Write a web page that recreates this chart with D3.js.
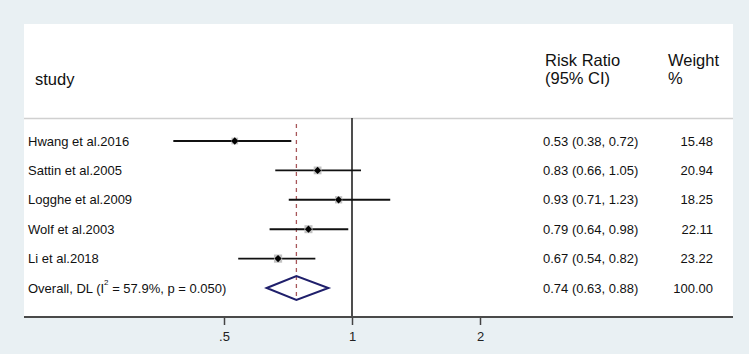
<!DOCTYPE html>
<html>
<head>
<meta charset="utf-8">
<script src="https://cdn.jsdelivr.net/npm/d3@7"></script>
<style>
  body { margin: 0; background: #e9f0f3; }
  svg { display: block; font-family: "Liberation Sans", Arial, sans-serif; }
</style>
</head>
<body>
<div class="canvas"></div>
<script>
// study rows
var studies = ['Hwang et al.2016', 'Sattin et al.2005', 'Logghe et al.2009', 'Wolf et al.2003', 'Li et al.2018'];
var rr = [0.53, 0.83, 0.93, 0.79, 0.67];
var lower = [0.38, 0.66, 0.71, 0.64, 0.54];
var upper = [0.72, 1.05, 1.23, 0.98, 0.82];
var weights = [15.48, 20.94, 18.25, 22.11, 23.22];

// pooled estimate
var overallLabel = 'Overall, DL';
var overallI2 = '57.9%';
var overallP = '0.050';
var overallRR = 0.74, overallLo = 0.63, overallHi = 0.88, overallWeight = 100.00;

var tickVals = [0.5, 1, 2];
var tickLabels = ['.5', '1', '2'];

var width = 749, height = 354;
var panel = { left: 24, top: 24, right: 733, bottom: 317 };

var svg = d3.select('.canvas')
  .append('svg')
  .attr('width', width)
  .attr('height', height);

// white plot region
svg.append('rect')
  .attr('x', panel.left).attr('y', panel.top)
  .attr('width', panel.right - panel.left)
  .attr('height', panel.bottom - panel.top)
  .attr('fill', '#fff');

var xscale = d3.scaleLog().domain([0.5, 2]).range([224, 480]);
var rows = studies.concat(['overall']);
var yscale = d3.scalePoint().domain(rows).range([141, 288]);

var fmt = d3.format('.2f');
var data = studies.map(function(s, i) {
  return { study: s, rr: rr[i], lo: lower[i], hi: upper[i], w: weights[i] };
});

// header
var head = svg.append('g').attr('fill', '#111').attr('font-size', 16.5);
head.append('text').attr('x', 35).attr('y', 85).text('study');
head.append('text').attr('x', 545).attr('y', 66).text('Risk Ratio');
head.append('text').attr('x', 545).attr('y', 84).text('(95% CI)');
head.append('text').attr('x', 668).attr('y', 66).text('Weight');
head.append('text').attr('x', 668).attr('y', 84).text('%');

svg.append('line')
  .attr('x1', panel.left).attr('x2', panel.right)
  .attr('y1', 118.5).attr('y2', 118.5)
  .attr('stroke', '#d0d0d0').attr('stroke-width', 1.5);

// null line
svg.append('line')
  .attr('x1', xscale(1)).attr('x2', xscale(1))
  .attr('y1', 118).attr('y2', panel.bottom)
  .attr('stroke', '#222').attr('stroke-width', 1.6);

// pooled estimate line
svg.append('line')
  .attr('x1', xscale(overallRR)).attr('x2', xscale(overallRR))
  .attr('y1', 124).attr('y2', yscale('overall') + 12)
  .attr('stroke', '#a8565a').attr('stroke-width', 1.3)
  .attr('stroke-dasharray', '4,4');

// confidence intervals
svg.selectAll('.ci')
  .data(data)
  .enter()
  .append('line')
  .attr('class', 'ci')
  .attr('x1', function(d) { return xscale(d.lo); })
  .attr('x2', function(d) { return xscale(d.hi); })
  .attr('y1', function(d) { return yscale(d.study); })
  .attr('y2', function(d) { return yscale(d.study); })
  .attr('stroke', '#111').attr('stroke-width', 1.9);

// weight boxes
svg.selectAll('.box')
  .data(data)
  .enter()
  .append('rect')
  .attr('class', 'box')
  .attr('x', function(d) { return xscale(d.rr) - 0.85 * Math.sqrt(d.w); })
  .attr('y', function(d) { return yscale(d.study) - 0.85 * Math.sqrt(d.w); })
  .attr('width', function(d) { return 1.7 * Math.sqrt(d.w); })
  .attr('height', function(d) { return 1.7 * Math.sqrt(d.w); })
  .attr('fill', '#c2c2c2');

// point estimates
svg.selectAll('.pt')
  .data(data)
  .enter()
  .append('path')
  .attr('class', 'pt')
  .attr('d', d3.symbol(d3.symbolDiamond2, 34))
  .attr('transform', function(d) { return 'translate(' + xscale(d.rr) + ',' + yscale(d.study) + ')'; })
  .attr('fill', '#000');

// overall diamond
var oy = yscale('overall');
svg.append('path')
  .attr('d', 'M' + xscale(overallLo) + ',' + oy +
             'L' + xscale(overallRR) + ',' + (oy - 12) +
             'L' + xscale(overallHi) + ',' + oy +
             'L' + xscale(overallRR) + ',' + (oy + 12) + 'Z')
  .attr('fill', 'none')
  .attr('stroke', '#1f1f6b').attr('stroke-width', 2);

// row labels and values
var txt = svg.append('g').attr('fill', '#111').attr('font-size', 13);
txt.selectAll('.lab')
  .data(data)
  .enter()
  .append('text')
  .attr('x', 28)
  .attr('y', function(d) { return yscale(d.study); })
  .attr('dy', '0.36em')
  .text(function(d) { return d.study; });

var ol = txt.append('text').attr('x', 28).attr('y', oy).attr('dy', '0.36em');
ol.append('tspan').text(overallLabel + ' (I');
ol.append('tspan').attr('font-size', 8).attr('dy', '-0.9em').text('2');
ol.append('tspan').attr('dy', '0.55em').text(' = ' + overallI2 + ', p = ' + overallP + ')');

txt.selectAll('.ci-lab')
  .data(data)
  .enter()
  .append('text')
  .attr('x', 543)
  .attr('y', function(d) { return yscale(d.study); })
  .attr('dy', '0.36em')
  .text(function(d) { return fmt(d.rr) + ' (' + fmt(d.lo) + ', ' + fmt(d.hi) + ')'; });
txt.append('text').attr('x', 543).attr('y', oy).attr('dy', '0.36em')
  .text(fmt(overallRR) + ' (' + fmt(overallLo) + ', ' + fmt(overallHi) + ')');

txt.selectAll('.w-lab')
  .data(data)
  .enter()
  .append('text')
  .attr('x', 713)
  .attr('y', function(d) { return yscale(d.study); })
  .attr('dy', '0.36em')
  .attr('text-anchor', 'end')
  .text(function(d) { return fmt(d.w); });
txt.append('text').attr('x', 713).attr('y', oy).attr('dy', '0.36em')
  .attr('text-anchor', 'end').text(fmt(overallWeight));

// x axis
var xaxis = d3.axisBottom(xscale)
  .tickValues(tickVals)
  .tickFormat(function(d, i) { return tickLabels[i]; })
  .tickSize(8).tickPadding(7);

var ax = svg.append('g')
  .attr('transform', 'translate(0,' + panel.bottom + ')')
  .call(xaxis);
ax.select('.domain').remove();
ax.selectAll('.tick line').attr('stroke', '#444').attr('stroke-width', 1.5);
ax.selectAll('.tick text').attr('fill', '#222').attr('font-size', 13)
  .attr('font-family', '"Liberation Sans", Arial, sans-serif');
ax.append('line')
  .attr('x1', panel.left).attr('x2', panel.right)
  .attr('y1', 0).attr('y2', 0)
  .attr('stroke', '#4a4a4a').attr('stroke-width', 2);
</script>
</body>
</html>
